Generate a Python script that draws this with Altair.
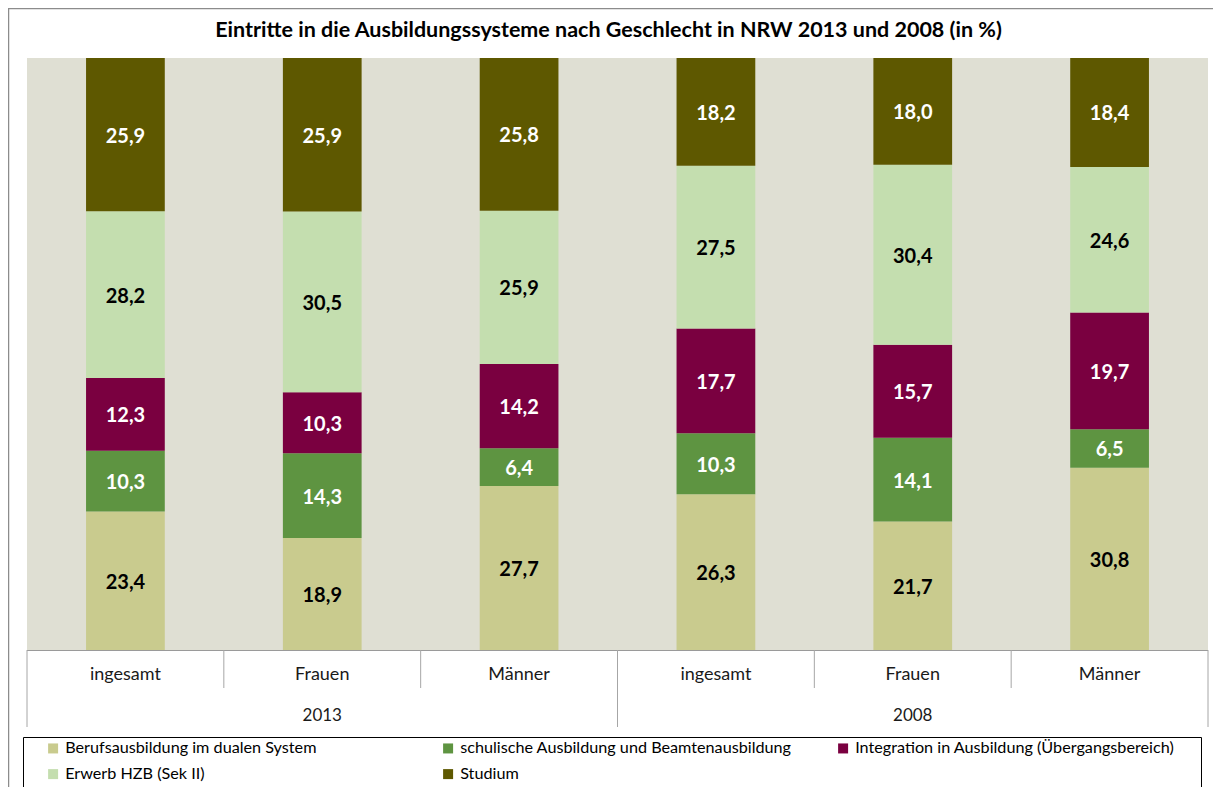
import altair as alt
import pandas as pd

# ---- data ----
categories = ["ingesamt", "Frauen", "Männer", "ingesamt", "Frauen", "Männer"]
years = ["2013", "2013", "2013", "2008", "2008", "2008"]
series = [
    "Berufsausbildung im dualen System",
    "schulische Ausbildung und Beamtenausbildung",
    "Integration in Ausbildung (Übergangsbereich)",
    "Erwerb HZB (Sek II)",
    "Studium",
]
beruf = [23.4, 18.9, 27.7, 26.3, 21.7, 30.8]
schulisch = [10.3, 14.3, 6.4, 10.3, 14.1, 6.5]
integration = [12.3, 10.3, 14.2, 17.7, 15.7, 19.7]
hzb = [28.2, 30.5, 25.9, 27.5, 30.4, 24.6]
studium = [25.9, 25.9, 25.8, 18.2, 18.0, 18.4]
title_text = ["Eintritte in die Ausbildungssysteme nach Geschlecht in NRW 2013 und 2008 (in %)"]

# ---- styles ----
colors = ["#C9CB8E", "#5E9441", "#7A0040", "#C4DEAF", "#5E5800"]
dark_series = [series[1], series[2], series[4]]
FONT = "Lato"
W, H = 1181, 592

values_by_series = [beruf, schulisch, integration, hzb, studium]
rows = []
for si, (s, vals) in enumerate(zip(series, values_by_series)):
    for ci, v in enumerate(vals):
        rows.append({
            "idx": ci, "cat": categories[ci], "year": years[ci],
            "series": s, "order": si, "value": v,
            "label": f"{v:.1f}".replace(".", ","),
        })
df = pd.DataFrame(rows)

cat_df = pd.DataFrame({"idx": list(range(len(categories))), "cat": categories})
year_names = list(dict.fromkeys(years))
year_df = pd.DataFrame({
    "year": year_names,
    "xm": [sum(i for i, y in enumerate(years) if y == yn) / years.count(yn) + 0.5 for yn in year_names],
})
bounds = list(range(len(categories) + 1))
outer_b = [b for b in bounds if b == 0 or b == len(categories) or years[b - 1] != years[min(b, len(years) - 1)]]
inner_b = [b for b in bounds if b not in outer_b]
outer_df = pd.DataFrame({"b": outer_b})
inner_df = pd.DataFrame({"b": inner_b})
base_df = pd.DataFrame({"b0": [0], "b1": [len(categories)]})
title_df = pd.DataFrame({"t": title_text})

xs = alt.Scale(domain=[0, len(categories)], nice=False, zero=False)
ys = alt.Scale(domain=[0, 1], nice=False, zero=False)

stacked = alt.Chart(df).transform_stack(
    stack="value", groupby=["idx"], sort=[alt.SortField("order", "ascending")],
    as_=["y0", "y1"], offset="normalize",
).transform_calculate(
    x0="datum.idx + 0.3", x1="datum.idx + 0.7", xm="datum.idx + 0.5",
    ym="(datum.y0 + datum.y1) / 2",
)

bars = stacked.mark_bar(stroke=None).encode(
    x=alt.X("x0:Q", scale=xs, axis=None),
    x2="x1:Q",
    y=alt.Y("y0:Q", scale=ys, axis=None),
    y2="y1:Q",
    color=alt.Color(
        "series:N",
        scale=alt.Scale(domain=series, range=colors),
        legend=alt.Legend(
            title=None, orient="none", legendX=18, legendY=682,
            direction="horizontal", columns=3, gridAlign="all",
            columnPadding=43, rowPadding=9, symbolType="square",
            symbolSize=100, symbolStrokeWidth=0, labelFont=FONT,
            labelFontSize=16.2, labelColor="#000000", labelOffset=4,
            padding=0, labelLimit=500,
        ),
    ),
)

test = " || ".join([f"datum.series == '{s}'" for s in dark_series])
labels = stacked.mark_text(
    font=FONT, fontSize=20, fontWeight="bold", baseline="middle", align="center", dy=2,
).encode(
    x=alt.X("xm:Q", scale=xs),
    y=alt.Y("ym:Q", scale=ys),
    text="label:N",
    color=alt.condition(test, alt.value("#FFFFFF"), alt.value("#000000")),
)

rule_color = "#A6A6A6"
base_rule = alt.Chart(base_df).mark_rule(color="#9A9A9A", strokeWidth=1).encode(
    x=alt.X("b0:Q", scale=xs), x2="b1:Q", y=alt.value(H + 0.5),
)
inner_rules = alt.Chart(inner_df).mark_rule(color=rule_color, strokeWidth=1).encode(
    x=alt.X("b:Q", scale=xs), y=alt.value(H), y2=alt.value(H + 38),
)
outer_rules = alt.Chart(outer_df).mark_rule(color=rule_color, strokeWidth=1).encode(
    x=alt.X("b:Q", scale=xs), y=alt.value(H), y2=alt.value(H + 77),
)
cat_text = alt.Chart(cat_df).transform_calculate(xm="datum.idx + 0.5").mark_text(
    font=FONT, fontSize=18, color="#1A1A1A", baseline="middle", align="center",
).encode(x=alt.X("xm:Q", scale=xs), y=alt.value(H + 25), text="cat:N")
year_text = alt.Chart(year_df).mark_text(
    font=FONT, fontSize=17, color="#1A1A1A", baseline="middle", align="center",
).encode(x=alt.X("xm:Q", scale=xs), y=alt.value(H + 66), text="year:N")

title = alt.Chart(title_df).mark_text(
    font=FONT, fontSize=21.5, fontWeight="bold", color="#000000",
    baseline="middle", align="center",
).encode(x=alt.value(W / 2 - 9), y=alt.value(-27.5), text="t:N")

legend_box = alt.Chart(base_df).mark_rect(
    fill=None, stroke="#000000", strokeWidth=1,
).encode(x=alt.value(-3.5), x2=alt.value(1174.5), y=alt.value(679.5), y2=alt.value(760))
frame_top = alt.Chart(base_df).mark_rule(color="#8C8C8C", strokeWidth=1.5).encode(
    x=alt.value(-19), x2=alt.value(1200), y=alt.value(-49.5),
)
frame_left = alt.Chart(base_df).mark_rule(color="#8C8C8C", strokeWidth=1.5).encode(
    x=alt.value(-18.5), y=alt.value(-50), y2=alt.value(760),
)

chart = alt.layer(
    frame_top, frame_left, bars, labels, base_rule, inner_rules, outer_rules,
    cat_text, year_text, legend_box, title,
).properties(
    width=W, height=H,
    autosize=alt.AutoSizeParams(type="none"),
    padding={"left": 19, "top": 50, "right": 5, "bottom": 137},
    background="#FFFFFF",
).configure_view(fill="#DFDFD3", stroke=None)

chart.save("out.html", embed_options={"renderer": "svg", "actions": False})
